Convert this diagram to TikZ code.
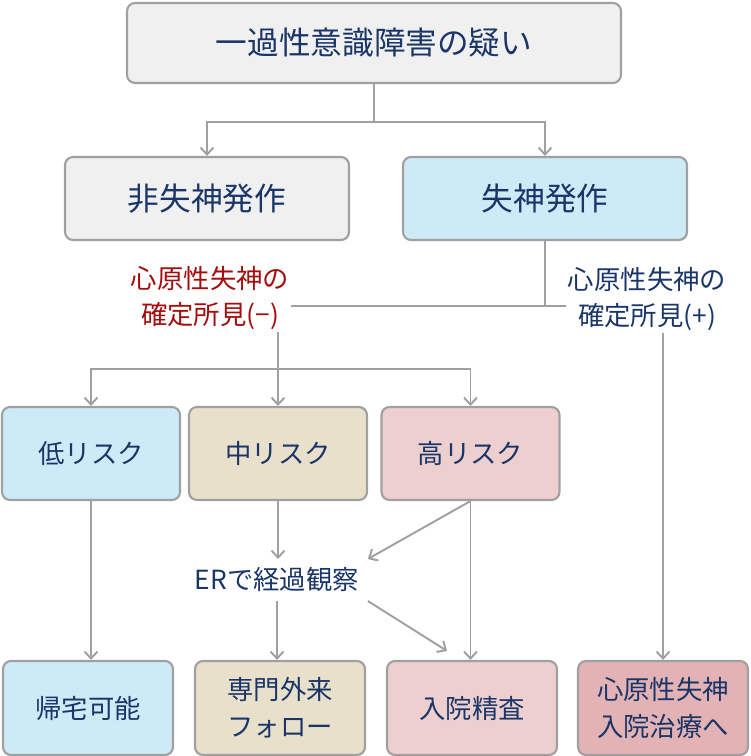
\documentclass[tikz,border=0pt]{standalone}
\usepackage{fontspec}
\newfontfamily\jpfont{Noto Sans CJK JP}
\usetikzlibrary{arrows.meta,calc}

\definecolor{navy}{HTML}{1A3668}
\definecolor{darkred}{HTML}{A50D0D}
\definecolor{linegray}{HTML}{A0A0A0}
\definecolor{boxgray}{HTML}{F0F0F0}
\definecolor{boxblue}{HTML}{CDEAF7}
\definecolor{boxbeige}{HTML}{E8E0CB}
\definecolor{boxpink}{HTML}{ECCFCE}
\definecolor{boxred}{HTML}{E3B2B4}

\tikzset{
  box/.style={draw=linegray, line width=1.2pt, rounded corners=0.16cm,
    align=center, text=navy, inner sep=0pt,
    font=\jpfont\fontsize{15}{21}\selectfont},
  wide/.style={minimum width=5.68cm, minimum height=1.66cm,
    font=\jpfont\fontsize{18}{22}\selectfont},
  risk/.style={minimum width=3.56cm, minimum height=1.86cm},
  outcome/.style={minimum width=3.4cm, minimum height=1.88cm},
  note/.style={align=center, text=navy, inner sep=1pt,
    font=\jpfont\fontsize{15}{21}\selectfont},
  line/.style={draw=linegray, line width=1.1pt},
  arrow/.style={line, -{Straight Barb[length=0.14cm, width=0.26cm]}}
}

\begin{document}
\begin{tikzpicture}[x=0.02cm, y=-0.02cm]
  \useasboundingbox (0,0) rectangle (750,756);

  \node[box, fill=boxgray, minimum width=9.88cm, minimum height=1.6cm,
    font=\jpfont\fontsize{18}{22}\selectfont] (suspect) at (374,43) {一過性意識障害の疑い};

  \node[box, wide, fill=boxgray] (nonsyncope) at (207,198.5) {非失神発作};
  \node[box, wide, fill=boxblue] (syncope) at (545,198.5) {失神発作};

  \node[note, text=darkred] (negative) at (210,298) {心原性失神の\\確定所見(−)};
  \node[note] (positive) at (647,299) {心原性失神の\\確定所見(+)};

  \node[box, risk, fill=boxblue] (lowrisk) at (91,453.5) {低リスク};
  \node[box, risk, fill=boxbeige] (midrisk) at (278,453.5) {中リスク};
  \node[box, risk, fill=boxpink] (highrisk) at (470.5,453.5) {高リスク};

  \node[note, inner sep=0.17cm] (observe) at (277,580) {ERで経過観察};

  \node[box, outcome, fill=boxblue] (home) at (88,708) {帰宅可能};
  \node[box, outcome, fill=boxbeige] (clinic) at (280,708) {専門外来\\フォロー};
  \node[box, outcome, fill=boxpink] (admit) at (472,708) {入院精査};
  \node[box, outcome, fill=boxred] (cardiac) at (663,708) {心原性失神\\入院治療へ};

  \coordinate (topfork) at (374,122);
  \coordinate (syncfork) at (545,306);
  \coordinate (riskfork) at (278,369);

  \draw[line] (suspect) -- (topfork);
  \draw[arrow] (topfork) -| (nonsyncope);
  \draw[arrow] (topfork) -| (syncope);

  \draw[line] (syncope) -- (syncfork);
  \draw[line] (syncfork) -- (syncfork -| negative.east);
  \draw[line] (syncfork) -- (syncfork -| positive.west);

  \draw[line] (negative.south -| riskfork) -- (riskfork);
  \draw[arrow] (riskfork) -| (lowrisk);
  \draw[arrow] (riskfork) -- (midrisk);
  \draw[arrow] (riskfork) -| (highrisk);
  \draw[arrow] (positive.south -| cardiac) -- (cardiac);

  \draw[arrow] (lowrisk) -- (lowrisk.south |- home.north);
  \draw[arrow] (midrisk) -- (midrisk.south |- observe.north);
  \draw[arrow] (observe) -- (observe.south |- clinic.north);
  \draw[arrow] (highrisk) -- (highrisk.south |- admit.north);
  \draw[arrow] (highrisk.south) -- (observe.north east);
  \draw[arrow] (observe.south east) -- ($(admit.north)+(-25,-9)$);
\end{tikzpicture}
\end{document}
